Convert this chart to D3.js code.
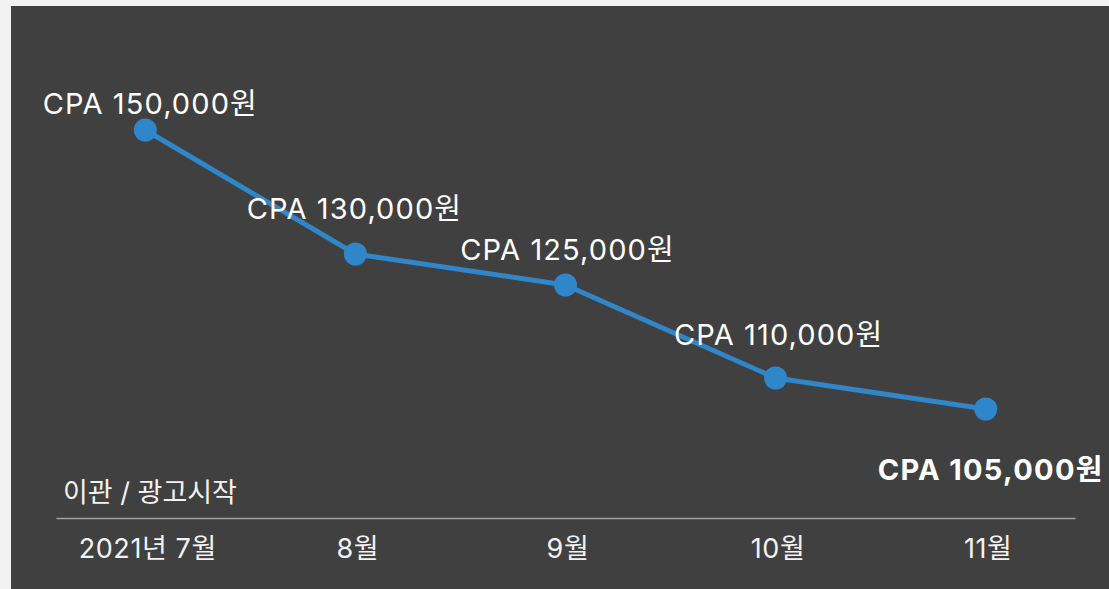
<!DOCTYPE html>
<html lang="ko">
<head>
<meta charset="utf-8">
<script src="https://cdn.jsdelivr.net/npm/d3@7"></script>
<style>
  html, body { margin: 0; padding: 0; background: #f2f2f2; }
  svg { display: block; }
  text { font-family: Inter, "Noto Sans CJK KR", sans-serif; }
</style>
</head>
<body>
<svg id="chart" width="1109" height="589"></svg>
<script>
// Monthly CPA after the account migration / ad launch
const months = ["2021년 7월", "8월", "9월", "10월", "11월"];
const cpa = [150000, 130000, 125000, 110000, 105000];
const valueLabels = ["CPA 150,000원", "CPA 130,000원", "CPA 125,000원", "CPA 110,000원", "CPA 105,000원"];
const startNote = "이관 / 광고시작";

// label nudges relative to each point (layout only)
const labelNudge = [[5, -16], [-1, -35], [2, -25], [3, -33], [5, 71]];

const W = 1109, H = 589;
const svg = d3.select("#chart");

svg.append("rect")
  .attr("x", 11).attr("y", 6)
  .attr("width", W - 11).attr("height", H - 6)
  .attr("fill", "#404040");

const x = d3.scalePoint().domain(months).range([56, 1075]).padding(0.425);
const y = d3.scaleLinear().domain([105000, 150000]).range([409, 130]);

const axisY = 518;
const axis = d3.axisBottom(x).tickSize(0).tickSizeOuter(0).tickPadding(0);
const gAxis = svg.append("g").attr("transform", `translate(0,${axisY})`).call(axis);
gAxis.select(".domain").attr("stroke", "#a0a0a0").attr("stroke-width", 1.6);
gAxis.selectAll(".tick text")
  .attr("y", 40).attr("dy", 0).attr("dx", 2)
  .attr("fill", "#f2f2f2")
  .style("font-size", "27px")
  .style("letter-spacing", "0.6px")
  .style("font-family", "Inter, 'Noto Sans CJK KR', sans-serif");

svg.append("text")
  .attr("x", 63).attr("y", 502)
  .attr("fill", "#f2f2f2")
  .style("font-size", "27px")
  .text(startNote);

const data = months.map((m, i) => ({ m, v: cpa[i], label: valueLabels[i], nudge: labelNudge[i], last: i === months.length - 1 }));

svg.append("path")
  .datum(data)
  .attr("fill", "none")
  .attr("stroke", "#2f86c9")
  .attr("stroke-width", 5)
  .attr("stroke-linejoin", "round")
  .attr("d", d3.line().x(d => x(d.m)).y(d => y(d.v)));

svg.selectAll("circle.pt")
  .data(data)
  .join("circle")
  .attr("class", "pt")
  .attr("cx", d => x(d.m))
  .attr("cy", d => y(d.v))
  .attr("r", 11.5)
  .attr("fill", "#2f86c9");

svg.selectAll("text.val")
  .data(data)
  .join("text")
  .attr("class", "val")
  .attr("x", d => x(d.m) + d.nudge[0])
  .attr("y", d => y(d.v) + d.nudge[1])
  .attr("text-anchor", "middle")
  .attr("fill", "#ffffff")
  .style("font-size", "29px")
  .style("letter-spacing", d => d.last ? "1.3px" : "1.1px")
  .style("font-weight", d => d.last ? 700 : 400)
  .text(d => d.label);
</script>
</body>
</html>
